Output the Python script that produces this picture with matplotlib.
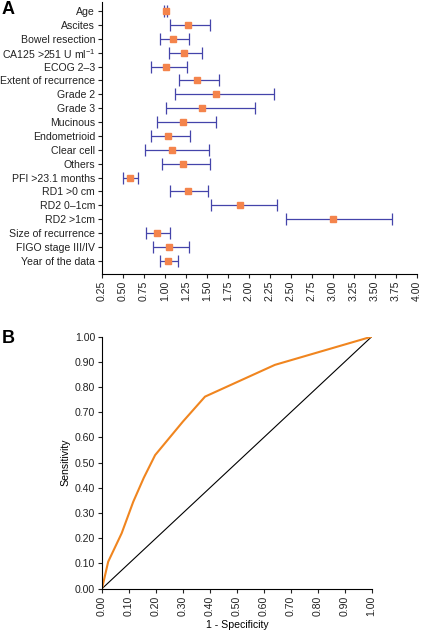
import numpy as np
import matplotlib
matplotlib.use("Agg")
import matplotlib.pyplot as plt

plt.rcParams['font.family'] = ['Liberation Sans', 'DejaVu Sans']
plt.rcParams['mathtext.fontset'] = 'custom'
plt.rcParams['mathtext.rm'] = 'Liberation Sans'
plt.rcParams['mathtext.default'] = 'regular'

# Panel A: hazard ratios with confidence intervals
labels = ["Age", "Ascites", "Bowel resection", "CA125 >251 U ml$^{-1}$", "ECOG 2\u20133",
          "Extent of recurrence", "Grade 2", "Grade 3", "Mucinous", "Endometrioid",
          "Clear cell", "Others", "PFI >23.1 months", "RD1 >0 cm", "RD2 0\u20131cm",
          "RD2 >1cm", "Size of recurrence", "FIGO stage III/IV", "Year of the data"]
hr = [1.01, 1.27, 1.10, 1.23, 1.01, 1.38, 1.61, 1.445, 1.21, 1.04,
      1.08, 1.21, 0.58, 1.27, 1.90, 3.00, 0.90, 1.05, 1.04]
lower = [0.99, 1.06, 0.94, 1.05, 0.83, 1.17, 1.12, 1.01, 0.91, 0.84,
         0.76, 0.96, 0.50, 1.065, 1.545, 2.44, 0.77, 0.86, 0.945]
upper = [1.02, 1.54, 1.29, 1.445, 1.26, 1.65, 2.30, 2.07, 1.61, 1.30,
         1.53, 1.54, 0.68, 1.51, 2.34, 3.70, 1.06, 1.29, 1.155]
xticks_a = np.arange(0.25, 4.01, 0.25)

# Panel B: ROC curve
fpr = [0.0, 0.023, 0.073, 0.116, 0.155, 0.197, 0.30, 0.382, 0.641, 1.0]
tpr = [0.0, 0.107, 0.22, 0.345, 0.44, 0.53, 0.663, 0.762, 0.888, 1.0]
ticks_b = np.arange(0, 1.01, 0.1)

bar_col = "#4444aa"
mark_col = "#f4844c"
roc_col = "#f0851f"
fs = 7.6

fig = plt.figure(figsize=(4.23, 6.34), dpi=100)

# ---- Panel A ----
ax1 = fig.add_axes([0.2411, 0.5678, 0.744, 0.4290])
y = np.arange(len(labels))
hr_a = np.array(hr)
err = [hr_a - np.array(lower), np.array(upper) - hr_a]
ax1.errorbar(hr_a, y, xerr=err, fmt='none', ecolor=bar_col, elinewidth=0.9,
             capsize=4.6, capthick=0.9)
ax1.plot(hr_a, y, 's', color=mark_col, markersize=4, linestyle='none')
ax1.set_xlim(0.25, 4.0)
ax1.set_ylim(18.95, -0.65)
ax1.set_yticks(y)
ax1.set_yticklabels(labels, fontsize=fs)
ax1.set_xticks(xticks_a)
ax1.set_xticklabels(["%.2f" % v for v in xticks_a], rotation=90, fontsize=fs)
ax1.spines['top'].set_visible(False)
ax1.spines['right'].set_visible(False)
ax1.tick_params(axis='both', length=3, width=0.8, pad=2, colors='#222222')
fig.text(0.003, 0.999, "A", fontsize=13, fontweight='bold', va='top', ha='left')

# ---- Panel B ----
ax2 = fig.add_axes([0.2411, 0.0715, 0.6376, 0.3975])
ax2.plot([0, 1], [0, 1], color='black', linewidth=0.8)
ax2.plot(fpr, tpr, color=roc_col, linewidth=1.5)
ax2.set_xlim(0, 1)
ax2.set_ylim(0, 1)
ax2.set_xticks(ticks_b)
ax2.set_xticklabels(["%.2f" % v for v in ticks_b], rotation=90, fontsize=fs)
ax2.set_yticks(ticks_b)
ax2.set_yticklabels(["%.2f" % v for v in ticks_b], fontsize=fs)
ax2.spines['top'].set_visible(False)
ax2.spines['right'].set_visible(False)
ax2.tick_params(axis='both', length=3, width=0.8, pad=2, colors='#222222')
ax2.set_xlabel("1 - Specificity", fontsize=fs, labelpad=3)
ax2.set_ylabel("Sensitivity", fontsize=fs, labelpad=3)
fig.text(0.003, 0.479, "B", fontsize=13, fontweight='bold', va='top', ha='left')

fig.savefig("out.png", dpi=100)
